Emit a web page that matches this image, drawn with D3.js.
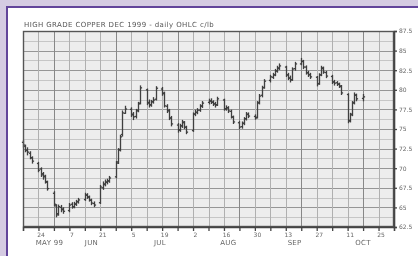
<!DOCTYPE html>
<html>
<head>
<meta charset="utf-8">
<script src="https://cdn.jsdelivr.net/npm/d3@7"></script>
<style>
  html, body { margin: 0; padding: 0; background: #d5cbe2; }
  svg { display: block; }
</style>
</head>
<body>
<svg id="chart" width="418" height="256"></svg>
<script>
// Chart title and session info
const title = "HIGH GRADE COPPER DEC 1999  -  daily OHLC  c/lb";
const firstSession = new Date(1999, 4, 17); // Mon 17 May 1999, one row per week below
const axisStart = new Date(1999, 4, 17);
const axisEnd = new Date(1999, 10, 1);

// Daily prices, cents per lb (Mon..Fri per row)
const opens = [
  73.30, 72.80, 72.25, 71.90, 71.30,
  70.60, 69.90, 69.30, 69.00, 68.20,
  66.80, 65.20, 64.20, 65.00, 64.80,
  64.60, 65.40, 65.10, 65.40, 65.75,
  66.00, 66.55, 66.30, 65.90, 65.50,
  65.60, 67.50, 67.90, 68.20, 68.40,
  68.90, 70.80, 72.40, 74.30, 77.00,
  77.50, 76.90, 76.60, 77.40, 78.30,
  80.00, 78.40, 78.10, 78.50, 78.80,
  80.10, 79.50, 77.90, 77.30, 76.40,
  75.50, 74.90, 75.40, 75.80, 75.20,
  74.80, 76.90, 77.10, 77.40, 77.90,
  78.40, 78.60, 78.40, 78.20, 78.10,
  78.70, 77.60, 77.70, 77.25, 76.50,
  75.80, 75.30, 75.70, 76.30, 76.85,
  76.60, 76.50, 78.40, 79.30, 80.30,
  81.20, 81.60, 81.90, 82.40, 82.70,
  82.90, 81.90, 81.50, 81.30, 82.70,
  83.30, 83.60, 82.90, 82.20, 81.95,
  81.60, 80.80, 81.90, 82.70, 82.20,
  81.70, 81.00, 80.90, 80.70, 80.40,
  79.40, 76.10, 76.90, 78.40, 79.30,
  78.90
];
const highs = [
  73.50, 72.95, 72.60, 72.10, 71.45,
  70.75, 70.05, 69.45, 69.10, 68.35,
  67.00, 65.35, 65.30, 65.25, 64.95,
  65.50, 65.60, 65.65, 65.90, 66.15,
  66.80, 66.75, 66.45, 66.05, 65.70,
  67.80, 68.25, 68.50, 68.60, 68.95,
  70.85, 72.50, 74.20, 77.30, 77.90,
  77.70, 77.10, 77.50, 78.40, 80.50,
  80.10, 78.70, 78.65, 79.00, 80.40,
  80.30, 79.70, 78.10, 77.50, 76.60,
  75.70, 75.60, 76.10, 75.95, 75.35,
  77.05, 77.40, 77.60, 78.10, 78.50,
  78.80, 78.85, 78.60, 78.40, 79.05,
  78.80, 77.95, 77.85, 77.40, 76.65,
  75.95, 75.90, 76.45, 77.10, 77.05,
  76.80, 78.50, 79.40, 80.45, 81.30,
  81.85, 82.10, 82.60, 83.00, 83.30,
  83.00, 82.10, 81.75, 82.80, 83.50,
  84.00, 83.75, 83.05, 82.35, 82.10,
  81.70, 82.05, 83.00, 82.90, 82.35,
  81.85, 81.20, 81.05, 80.85, 80.55,
  79.50, 77.00, 78.50, 79.60, 79.45,
  79.40
];
const lows = [
  72.70, 72.10, 71.70, 71.20, 70.65,
  69.55, 68.95, 68.60, 68.10, 67.20,
  65.20, 63.80, 64.00, 64.45, 64.25,
  64.45, 64.90, 64.95, 65.25, 65.55,
  65.90, 66.15, 65.80, 65.35, 65.10,
  65.50, 67.30, 67.75, 68.00, 68.20,
  68.80, 70.60, 72.20, 74.10, 77.00,
  76.60, 76.20, 76.40, 77.20, 78.20,
  78.10, 77.80, 77.90, 78.30, 78.70,
  79.30, 77.80, 77.10, 76.20, 75.40,
  74.60, 74.70, 75.20, 75.05, 74.40,
  74.70, 76.70, 76.95, 77.25, 77.75,
  78.20, 78.25, 78.00, 77.80, 78.00,
  77.40, 77.40, 77.10, 76.40, 75.70,
  75.05, 75.10, 75.55, 76.15, 76.45,
  76.25, 76.40, 78.20, 79.10, 80.20,
  81.00, 81.45, 81.80, 82.25, 82.60,
  81.70, 81.30, 81.00, 81.20, 82.50,
  83.20, 82.70, 82.00, 81.70, 81.45,
  80.50, 80.70, 81.80, 82.10, 81.55,
  80.80, 80.60, 80.55, 80.30, 79.40,
  75.80, 75.90, 76.70, 78.20, 78.60,
  78.60
];
const closes = [
  72.95, 72.30, 72.05, 71.35, 70.90,
  69.75, 69.15, 68.90, 68.30, 67.40,
  65.40, 64.05, 65.10, 64.70, 64.50,
  65.30, 65.05, 65.45, 65.70, 65.95,
  66.60, 66.35, 65.95, 65.55, 65.30,
  67.60, 68.00, 68.25, 68.35, 68.75,
  70.65, 72.30, 74.00, 77.05, 77.55,
  76.80, 76.55, 77.30, 78.20, 80.25,
  78.30, 78.05, 78.45, 78.70, 80.20,
  79.60, 77.95, 77.40, 76.40, 75.65,
  74.85, 75.40, 75.90, 75.25, 74.60,
  76.90, 77.15, 77.40, 77.95, 78.30,
  78.55, 78.45, 78.20, 78.05, 78.85,
  77.55, 77.70, 77.30, 76.55, 75.90,
  75.25, 75.75, 76.30, 76.90, 76.65,
  76.40, 78.30, 79.20, 80.25, 81.10,
  81.65, 81.90, 82.40, 82.80, 83.05,
  81.90, 81.50, 81.25, 82.65, 83.30,
  83.65, 82.90, 82.15, 81.90, 81.65,
  80.75, 81.90, 82.80, 82.25, 81.75,
  81.00, 80.85, 80.75, 80.50, 79.60,
  76.00, 76.80, 78.30, 79.35, 78.85,
  79.10
];

// Axis labels
const priceTicks = [62.5, 65, 67.5, 70, 72.5, 75, 77.5, 80, 82.5, 85, 87.5];
const dayLabels = ["24", "7", "21", "5", "19", "2", "16", "30", "13", "27", "11", "25"];
const monthLabels = [
  { label: "MAY 99", date: new Date(1999, 4, 29) },
  { label: "JUN", date: new Date(1999, 5, 17) },
  { label: "JUL", date: new Date(1999, 6, 18) },
  { label: "AUG", date: new Date(1999, 7, 18) },
  { label: "SEP", date: new Date(1999, 8, 17) },
  { label: "OCT", date: new Date(1999, 9, 18) }
];

// Build the session dates (weekdays only)
const sessions = [];
let day = new Date(firstSession);
while (sessions.length < closes.length) {
  if (day.getDay() !== 0 && day.getDay() !== 6) sessions.push(new Date(day));
  day = d3.timeDay.offset(day, 1);
}
const bars = sessions.map((date, i) => ({
  date: date,
  open: opens[i],
  high: highs[i],
  low: lows[i],
  close: closes[i]
}));

const svg = d3.select("#chart");
const plot = { left: 23, right: 394, top: 31, bottom: 227 };
const labelFont = "'DejaVu Sans', Verdana, sans-serif";

const x = d3.scaleTime().domain([axisStart, axisEnd]).range([plot.left, plot.right]);
const y = d3.scaleLinear().domain([62.5, 87.5]).range([plot.bottom, plot.top]);

// Soften everything a touch, the source is a scanned print
const defs = svg.append("defs");
defs.append("filter")
  .attr("id", "soft")
  .append("feGaussianBlur")
  .attr("stdDeviation", 0.5);

// White card with purple border (only top and left edges show)
svg.append("rect")
  .attr("x", 7)
  .attr("y", 7)
  .attr("width", 430)
  .attr("height", 270)
  .attr("fill", "#ffffff")
  .attr("stroke", "#62449a")
  .attr("stroke-width", 2);

const chart = svg.append("g").attr("filter", "url(#soft)");

// Plot background
chart.append("rect")
  .attr("x", plot.left)
  .attr("y", plot.top)
  .attr("width", plot.right - plot.left)
  .attr("height", plot.bottom - plot.top)
  .attr("fill", "#ededed");

// Horizontal grid: minor every 1.25, major at each labelled price
const minorPrices = d3.range(62.5, 87.5, 1.25);
chart.append("g")
  .selectAll("line")
  .data(minorPrices)
  .join("line")
  .attr("x1", plot.left)
  .attr("x2", plot.right)
  .attr("y1", d => Math.round(y(d)) + 0.5)
  .attr("y2", d => Math.round(y(d)) + 0.5)
  .attr("stroke", d => priceTicks.includes(d) ? "#969696" : "#c6c6c6")
  .attr("stroke-width", 1);

// Vertical grid: one per week, heavier every fourth
const weeks = d3.timeMonday.range(d3.timeDay.offset(axisStart, 1), axisEnd);
chart.append("g")
  .selectAll("line")
  .data(weeks)
  .join("line")
  .attr("x1", d => Math.round(x(d)) + 0.5)
  .attr("x2", d => Math.round(x(d)) + 0.5)
  .attr("y1", plot.top)
  .attr("y2", plot.bottom)
  .attr("stroke", (d, i) => i % 4 === 1 ? "#888888" : "#b0b0b0")
  .attr("stroke-width", 1);

// OHLC bars
const barGroup = chart.append("g")
  .attr("stroke", "#3f3f3f")
  .attr("stroke-width", 1.3)
  .attr("fill", "none");

bars.forEach(b => {
  const bx = Math.round(x(b.date)) + 0.5;
  barGroup.append("line")
    .attr("x1", bx).attr("x2", bx)
    .attr("y1", y(b.high) - 0.5).attr("y2", y(b.low) + 0.5);
  barGroup.append("line")
    .attr("x1", bx - 1.6).attr("x2", bx)
    .attr("y1", y(b.open)).attr("y2", y(b.open));
  barGroup.append("line")
    .attr("x1", bx).attr("x2", bx + 1.6)
    .attr("y1", y(b.close)).attr("y2", y(b.close));
});

// Frame
chart.append("rect")
  .attr("x", plot.left + 0.5)
  .attr("y", plot.top + 0.5)
  .attr("width", plot.right - plot.left - 1)
  .attr("height", plot.bottom - plot.top - 1)
  .attr("fill", "none")
  .attr("stroke", "#555555")
  .attr("stroke-width", 1.4);

// Right price axis
const yAxis = chart.append("g")
  .attr("transform", `translate(${plot.right},0)`)
  .call(d3.axisRight(y).tickValues(priceTicks).tickSize(3).tickFormat(d => String(d)));
yAxis.select(".domain").attr("stroke", "#444").attr("stroke-width", 1.6);
yAxis.selectAll(".tick line").attr("stroke", "#444").attr("stroke-width", 1.3);
yAxis.selectAll(".tick text")
  .attr("x", 5)
  .attr("fill", "#666")
  .style("font", `6px ${labelFont}`);

// Bottom date axis: weekly ticks, day number every second week
const xAxis = chart.append("g")
  .attr("transform", `translate(0,${plot.bottom})`)
  .call(d3.axisBottom(x)
    .tickValues(weeks)
    .tickSize(4)
    .tickFormat((d, i) => i % 2 === 0 ? dayLabels[i / 2] : ""));
xAxis.select(".domain").attr("stroke", "#444").attr("stroke-width", 1.6);
xAxis.selectAll(".tick line").attr("stroke", "#444").attr("stroke-width", 1.3);
xAxis.selectAll(".tick text")
  .attr("y", 6)
  .attr("x", 2)
  .attr("fill", "#666")
  .style("font", `6px ${labelFont}`);

// Month names under the day numbers
chart.append("g")
  .selectAll("text")
  .data(monthLabels)
  .join("text")
  .attr("x", d => x(d.date))
  .attr("y", 245)
  .attr("text-anchor", "middle")
  .attr("fill", "#666")
  .style("font", `7px ${labelFont}`)
  .style("letter-spacing", "0.3px")
  .text(d => d.label);

// Title
chart.append("text")
  .attr("x", plot.left + 1)
  .attr("y", 27)
  .attr("fill", "#555")
  .style("font", `7px ${labelFont}`)
  .style("letter-spacing", "0.4px")
  .text(title);
</script>
</body>
</html>
